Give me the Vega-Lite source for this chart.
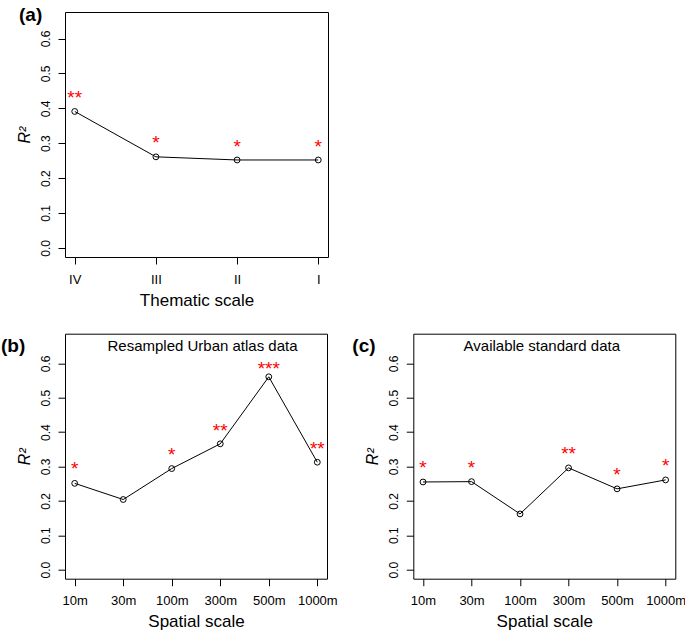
{
  "$schema": "https://vega.github.io/schema/vega-lite/v6.json",
  "background": "white",
  "padding": {"left": 0, "top": 5, "right": 5, "bottom": 5},
  "bounds": "flush",
  "spacing": 76.7,
  "vconcat": [
    {
      "width": 263,
      "height": 245,
      "title": {"text": "(a)", "anchor": "start", "frame": "group", "fontSize": 19, "fontWeight": "bold", "font": "Liberation Sans", "color": "black", "offset": 0, "dx": -46, "dy": 13},
      "data": {"values": [
        {"t": "IV", "r2": 0.391, "sig": "**", "sig_y": 0.443},
        {"t": "III", "r2": 0.261, "sig": "*", "sig_y": 0.312},
        {"t": "II", "r2": 0.252, "sig": "*", "sig_y": 0.302},
        {"t": "I", "r2": 0.252, "sig": "*", "sig_y": 0.302}
      ]},
      "layer": [
        {
          "mark": {"type": "line", "color": "black", "strokeWidth": 1},
          "encoding": {
            "x": {"field": "t", "type": "nominal", "sort": ["IV", "III", "II", "I"], "scale": {"type": "point", "padding": 0.12}, "axis": {"title": "Thematic scale"}},
            "y": {"field": "r2", "type": "quantitative", "scale": {"domain": [-0.026, 0.676], "nice": false, "zero": false}, "axis": {"title": "R²"}}
          }
        },
        {
          "mark": {"type": "point", "shape": "circle", "filled": false, "color": "black", "size": 34, "strokeWidth": 1, "opacity": 1},
          "encoding": {
            "x": {"field": "t", "type": "nominal", "sort": ["IV", "III", "II", "I"], "scale": {"type": "point", "padding": 0.12}, "axis": {"title": "Thematic scale"}},
            "y": {"field": "r2", "type": "quantitative", "scale": {"domain": [-0.026, 0.676], "nice": false, "zero": false}, "axis": {"title": "R²"}}
          }
        },
        {
          "mark": {"type": "text", "color": "#FF0000", "fontSize": 19, "baseline": "alphabetic", "dy": 10.3, "font": "Liberation Sans"},
          "encoding": {
            "x": {"field": "t", "type": "nominal", "sort": ["IV", "III", "II", "I"], "scale": {"type": "point", "padding": 0.12}, "axis": {"title": "Thematic scale"}},
            "y": {"field": "sig_y", "type": "quantitative", "scale": {"domain": [-0.026, 0.676], "nice": false, "zero": false}, "axis": {"title": "R²"}},
            "text": {"field": "sig"}
          }
        }
      ]
    },
    {
      "bounds": "flush",
      "spacing": 86.3,
      "hconcat": [
        {
          "width": 262,
          "height": 245,
          "title": {"text": "(b)", "anchor": "start", "frame": "group", "fontSize": 19, "fontWeight": "bold", "font": "Liberation Sans", "color": "black", "offset": 0, "dx": -64, "dy": 22},
          "data": {"values": [
            {"s": "10m", "r2": 0.251, "sig": "*", "sig_y": 0.304},
            {"s": "30m", "r2": 0.204, "sig": "", "sig_y": null},
            {"s": "100m", "r2": 0.294, "sig": "*", "sig_y": 0.347},
            {"s": "300m", "r2": 0.366, "sig": "**", "sig_y": 0.417},
            {"s": "500m", "r2": 0.561, "sig": "***", "sig_y": 0.597},
            {"s": "1000m", "r2": 0.3125, "sig": "**", "sig_y": 0.364}
          ]},
          "resolve": {"axis": {"x": "independent"}},
          "layer": [
            {
              "mark": {"type": "line", "color": "black", "strokeWidth": 1},
              "encoding": {
                "x": {"field": "s", "type": "nominal", "sort": ["10m", "30m", "100m", "300m", "500m", "1000m"], "scale": {"type": "point", "padding": 0.2}, "axis": {"title": "Spatial scale"}},
                "y": {"field": "r2", "type": "quantitative", "scale": {"domain": [-0.0264, 0.6864], "nice": false, "zero": false}, "axis": {"title": "R²"}}
              }
            },
            {
              "mark": {"type": "point", "shape": "circle", "filled": false, "color": "black", "size": 34, "strokeWidth": 1, "opacity": 1},
              "encoding": {
                "x": {"field": "s", "type": "nominal", "sort": ["10m", "30m", "100m", "300m", "500m", "1000m"], "scale": {"type": "point", "padding": 0.2}, "axis": null},
                "y": {"field": "r2", "type": "quantitative", "scale": {"domain": [-0.0264, 0.6864], "nice": false, "zero": false}, "axis": {"title": "R²"}}
              }
            },
            {
              "mark": {"type": "text", "color": "#FF0000", "fontSize": 19, "baseline": "alphabetic", "dy": 10.3, "font": "Liberation Sans"},
              "encoding": {
                "x": {"field": "s", "type": "nominal", "sort": ["10m", "30m", "100m", "300m", "500m", "1000m"], "scale": {"type": "point", "padding": 0.2}, "axis": {"orient": "top", "title": "Resampled Urban atlas data", "ticks": false, "labels": false, "domain": false, "titlePadding": -16.5, "titleBaseline": "alphabetic", "titleFontSize": 15, "titleX": 137}},
                "y": {"field": "sig_y", "type": "quantitative", "scale": {"domain": [-0.0264, 0.6864], "nice": false, "zero": false}, "axis": {"title": "R²"}},
                "text": {"field": "sig"}
              }
            }
          ]
        },
        {
          "width": 262,
          "height": 245,
          "title": {"text": "(c)", "anchor": "start", "frame": "group", "fontSize": 19, "fontWeight": "bold", "font": "Liberation Sans", "color": "black", "offset": 0, "dx": -61, "dy": 22},
          "data": {"values": [
            {"s": "10m", "r2": 0.255, "sig": "*", "sig_y": 0.307},
            {"s": "30m", "r2": 0.256, "sig": "*", "sig_y": 0.307},
            {"s": "100m", "r2": 0.162, "sig": "", "sig_y": null},
            {"s": "300m", "r2": 0.296, "sig": "**", "sig_y": 0.348},
            {"s": "500m", "r2": 0.235, "sig": "*", "sig_y": 0.288},
            {"s": "1000m", "r2": 0.261, "sig": "*", "sig_y": 0.315}
          ]},
          "resolve": {"axis": {"x": "independent"}},
          "layer": [
            {
              "mark": {"type": "line", "color": "black", "strokeWidth": 1},
              "encoding": {
                "x": {"field": "s", "type": "nominal", "sort": ["10m", "30m", "100m", "300m", "500m", "1000m"], "scale": {"type": "point", "padding": 0.2}, "axis": {"title": "Spatial scale"}},
                "y": {"field": "r2", "type": "quantitative", "scale": {"domain": [-0.0264, 0.6864], "nice": false, "zero": false}, "axis": {"title": "R²"}}
              }
            },
            {
              "mark": {"type": "point", "shape": "circle", "filled": false, "color": "black", "size": 34, "strokeWidth": 1, "opacity": 1},
              "encoding": {
                "x": {"field": "s", "type": "nominal", "sort": ["10m", "30m", "100m", "300m", "500m", "1000m"], "scale": {"type": "point", "padding": 0.2}, "axis": null},
                "y": {"field": "r2", "type": "quantitative", "scale": {"domain": [-0.0264, 0.6864], "nice": false, "zero": false}, "axis": {"title": "R²"}}
              }
            },
            {
              "mark": {"type": "text", "color": "#FF0000", "fontSize": 19, "baseline": "alphabetic", "dy": 10.3, "font": "Liberation Sans"},
              "encoding": {
                "x": {"field": "s", "type": "nominal", "sort": ["10m", "30m", "100m", "300m", "500m", "1000m"], "scale": {"type": "point", "padding": 0.2}, "axis": {"orient": "top", "title": "Available standard data", "ticks": false, "labels": false, "domain": false, "titlePadding": -16.5, "titleBaseline": "alphabetic", "titleFontSize": 15, "titleX": 128}},
                "y": {"field": "sig_y", "type": "quantitative", "scale": {"domain": [-0.0264, 0.6864], "nice": false, "zero": false}, "axis": {"title": "R²"}},
                "text": {"field": "sig"}
              }
            }
          ]
        }
      ]
    }
  ],
  "config": {
    "font": "Liberation Sans",
    "view": {"stroke": "black", "strokeWidth": 1},
    "axis": {"grid": false, "domain": false, "tickColor": "black", "tickSize": 7, "tickWidth": 1, "labelColor": "black", "labelFontSize": 13, "labelFont": "Liberation Sans", "titleFont": "Liberation Sans", "titleColor": "black", "titleFontWeight": "normal", "titleFontSize": 17},
    "axisBottom": {"labelPadding": 9, "titlePadding": 6, "labelAngle": 0},
    "axisLeft": {"labelAngle": -90, "labelAlign": "center", "labelBaseline": "bottom", "labelPadding": 6, "titlePadding": 7, "titleFontStyle": "italic", "titleFontSize": 16, "labelFontSize": 12, "values": [0, 0.1, 0.2, 0.3, 0.4, 0.5, 0.6], "format": ".1f"}
  }
}
